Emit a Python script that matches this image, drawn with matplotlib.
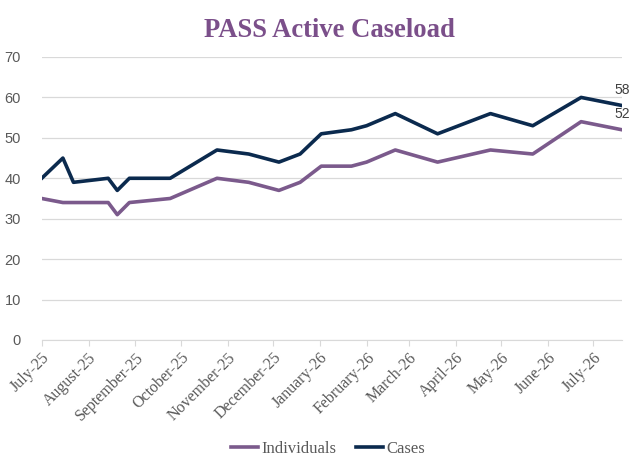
import numpy as np
import pandas as pd
import matplotlib
matplotlib.use('Agg')
import matplotlib.pyplot as plt

plt.rcParams['font.family'] = ['Liberation Serif', 'DejaVu Serif']

## Datos
fechas = pd.to_datetime([
    '2025-07-01', '2025-07-15', '2025-07-22', '2025-08-14', '2025-08-20',
    '2025-08-28', '2025-09-24', '2025-10-25', '2025-11-15', '2025-12-05',
    '2025-12-19', '2026-01-02', '2026-01-22', '2026-02-01', '2026-02-20',
    '2026-03-20', '2026-04-24', '2026-05-22', '2026-06-23', '2026-07-20'])
individuals = [35, 34, 34, 34, 31, 34, 35, 40, 39, 37,
               39, 43, 43, 44, 47, 44, 47, 46, 54, 52]
cases = [40, 45, 39, 40, 37, 40, 40, 47, 46, 44,
         46, 51, 52, 53, 56, 51, 56, 53, 60, 58]
meses = pd.date_range('2025-07-01', '2026-07-01', freq='MS')
etiquetas = [m.strftime('%B-%y') for m in meses]

col_ind = '#7b5a8c'
col_cas = '#0b2a4e'
gris = '#595959'

## Figura
fig = plt.figure(figsize=(6.43, 4.66), dpi=100)
ax = fig.add_axes([0.0649, 0.2704, 0.9023, 0.6073])

ax.plot(fechas, individuals, color=col_ind, lw=2.6, label='Individuals')
ax.plot(fechas, cases, color=col_cas, lw=2.6, label='Cases')

for v in [cases[-1], individuals[-1]]:
    ax.text(fechas[-1], v + 2.2, str(v), ha='center', va='bottom',
            fontsize=10, color='#404040', family='Liberation Sans')

ax.set_xlim(fechas[0], fechas[-1])
ax.set_ylim(0, 70)
ax.set_yticks(np.arange(0, 71, 10))
ax.set_xticks(meses)
ax.set_xticklabels(etiquetas, rotation=45, ha='right', rotation_mode='anchor')
for lab in ax.get_yticklabels():
    lab.set_family('Liberation Sans')

ax.grid(axis='y', color='#d9d9d9', lw=0.9)
ax.set_axisbelow(True)
for s in ['top', 'right', 'left']:
    ax.spines[s].set_visible(False)
ax.spines['bottom'].set_color('#d9d9d9')
ax.tick_params(axis='y', length=0, pad=15, labelsize=10.5, labelcolor=gris)
ax.tick_params(axis='x', length=4, color='#d9d9d9', pad=3, labelsize=11.5,
               labelcolor=gris)

fig.text(0.512, 0.935, 'PASS Active Caseload', ha='center', va='center',
         fontsize=19.2, fontweight='bold', color='#7b4f8a')

fig.legend(loc='center', bbox_to_anchor=(0.51, 0.037), ncol=2, frameon=False,
           fontsize=12, handlelength=1.6, handletextpad=0.2,
           columnspacing=1.2, labelcolor=gris)

plt.savefig('out.png', dpi=100)
